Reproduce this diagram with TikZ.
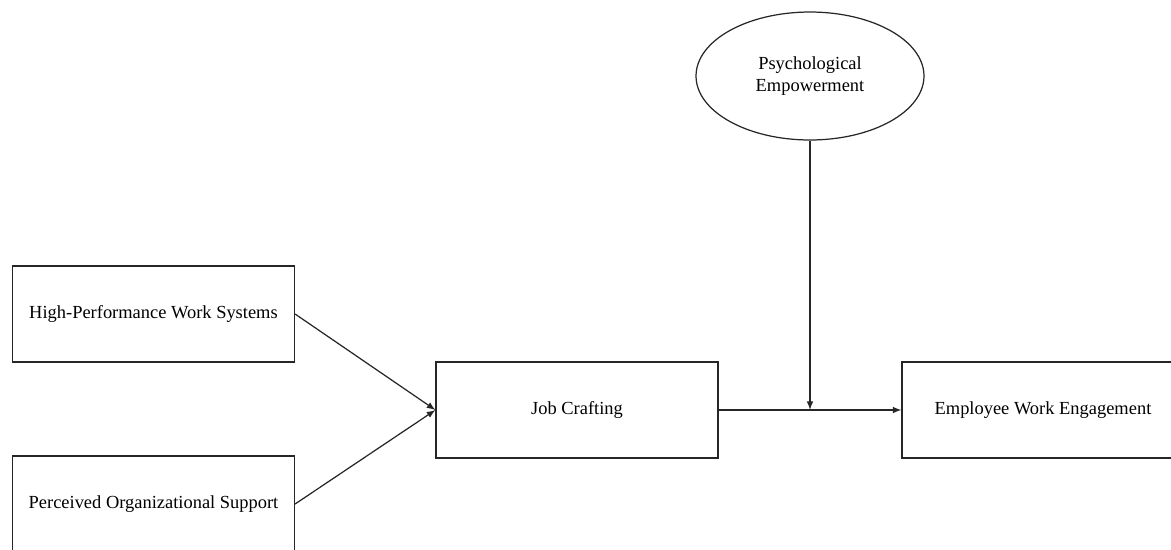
\documentclass[tikz,border=0pt]{standalone}
\usepackage{fontspec}
\setmainfont{Liberation Serif}
\usetikzlibrary{shapes,arrows}
\usetikzlibrary{scopes}

\begin{document}
\begin{tikzpicture}
      [
      x=0.02cm, y=-0.02cm,
      every node/.style={font=\fontsize{10.5}{12.5}\selectfont},
      construct/.style={draw=black!85,line width=0.7pt,minimum width=5.64cm,minimum height=1.92cm,inner sep=0pt},
      latentvar/.style={ellipse,draw=black!85,line width=0.7pt,minimum width=4.56cm,minimum height=2.56cm,inner sep=0pt,align=center},
      effect/.style={->,>=latex,draw=black!85,line width=0.7pt},
      ]
      \useasboundingbox (0,0) rectangle (1171,549);
      % predictors
      \node[construct] (hpws) at (153.5,314) {High-Performance Work Systems};
      \node[construct] (pos) at (153.5,504) {Perceived Organizational Support};
      % mediator and outcome
      \node[construct] (jc) at (577,410) {Job Crafting};
      \node[construct] (ewe) at (1043,410) {Employee Work Engagement};
      % moderator
      \node[latentvar] (pe) at (810,76) {Psychological\\Empowerment};
      {[effect]
        \draw (hpws.east) -- (jc.west);
        \draw (pos.east) -- (jc.west);
        \draw (jc.east) -- (ewe.west);
        \draw (pe.south) -- (pe.south |- jc.east);
      }
    \end{tikzpicture}
\end{document}
